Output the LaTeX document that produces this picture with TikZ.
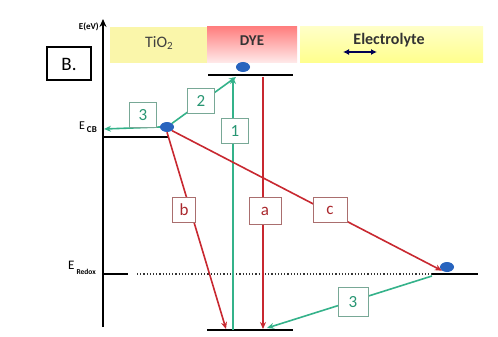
\documentclass[tikz,border=0pt]{standalone}
\usepackage{fontspec}
\setmainfont{Carlito}
\usetikzlibrary{arrows.meta,shapes.geometric}
\definecolor{grn}{RGB}{52,178,138}
\definecolor{grnbox}{RGB}{120,168,150}
\definecolor{rd}{RGB}{200,40,48}
\definecolor{rdbox}{RGB}{170,110,110}
\definecolor{rdtxt}{RGB}{170,40,45}
\definecolor{grntxt}{RGB}{40,150,115}
\definecolor{blu}{RGB}{40,100,190}
\definecolor{paleyel}{RGB}{250,246,170}
\begin{document}
\begin{tikzpicture}[x=1pt,y=-1pt,
  level/.style={line width=2.4pt,black},
  garrow/.style={grn,line width=1.6pt,-{Stealth[length=7pt,width=6pt]}},
  rarrow/.style={rd,line width=1.6pt,-{Stealth[length=7pt,width=6pt]}},
  glab/.style={draw=grnbox,fill=white,line width=1pt,text=grntxt,font=\fontsize{17}{17}\selectfont,minimum width=27pt,minimum height=25pt,inner sep=1pt},
  rlab/.style={draw=rdbox,fill=white,line width=1pt,text=rdtxt,font=\fontsize{17}{17}\selectfont,minimum width=27pt,minimum height=25pt,inner sep=1pt},
  electron/.style={ellipse,fill=blu,minimum width=14pt,minimum height=10pt,inner sep=0pt},
  hdr/.style={minimum height=36pt,inner sep=0pt,anchor=north west}]
\useasboundingbox (0,0) rectangle (498,337);
\fill[white] (0,0) rectangle (498,337);
% header boxes
\node[hdr,fill=paleyel,minimum width=97pt] (tio) at (110,27) {};
\node[font=\fontsize{16}{16}\selectfont,text=black!75] (tiot) at (159,43) {TiO\raisebox{-2pt}{\fontsize{11}{11}\selectfont 2}};
\shade[top color=red!50,bottom color=red!8] (207,27) rectangle (297,63);
\node[hdr,minimum width=90pt] (dye) at (207,27) {};
\node[font=\bfseries\fontsize{15}{15}\selectfont,text=black!80] (dyet) at (252,41) {DYE};
\shade[top color=yellow!22,bottom color=yellow!45] (300,27) rectangle (483,63);
\node[hdr,minimum width=183pt] (ele) at (300,27) {};
\node[font=\bfseries\fontsize{16}{16}\selectfont,text=black!80] (elet) at (389,40) {Electrolyte};
\coordinate (dl) at (343,52);
\coordinate (dr) at (377,52);
\draw[{Latex[length=6pt,width=6pt]}-{Latex[length=6pt,width=6pt]},line width=1.5pt,black!60!blue!80!black] (dl) -- (dr);
% B box
\node[draw,line width=2pt,minimum width=44pt,minimum height=33pt,font=\fontsize{19}{19}\selectfont] (bbox) at (69,64) {B.};
% axis
\coordinate (axb) at (103,327);
\coordinate (axt) at (103,19);
\draw[line width=1.8pt,-{Stealth[length=8pt,width=7pt]}] (axb) -- (axt);
\node[anchor=east,font=\bfseries\fontsize{9}{9}\selectfont,inner sep=0pt] (eev) at (99,27) {E(eV)};
% levels
\coordinate (cbl) at (103,137); \coordinate (cbr) at (168,137);
\draw[level] (cbl) -- (cbr);
\coordinate (lul) at (208,75); \coordinate (lur) at (293,75);
\draw[level] (lul) -- (lur);
\coordinate (hol) at (207,330); \coordinate (hor) at (293,330);
\draw[level] (hol) -- (hor);
\coordinate (rtl) at (103,274); \coordinate (rtr) at (128,274);
\draw[level] (rtl) -- (rtr);
\coordinate (rdl) at (137,274); \coordinate (rdm) at (432,274); \coordinate (rdr) at (478,274);
\draw[dotted,line width=1.2pt,black!80] (rdl) -- (rdm);
\draw[level] (rdm) -- (rdr);
% level labels
\node[anchor=east,inner sep=0pt,font=\fontsize{12}{12}\selectfont] (ecb) at (97,127) {E\,\raisebox{-3pt}{\fontsize{9}{9}\selectfont\bfseries CB}};
\node[anchor=east,inner sep=0pt,font=\fontsize{13}{13}\selectfont] (ered) at (96,268) {E\,\raisebox{-5pt}{\fontsize{7.5}{7.5}\selectfont\bfseries Redox}};
% electrons
\node[electron] (ecbe) at (167,127) {};
\node[electron] (lue) at (243,67) {};
\node[electron] (rde) at (447,267) {};
% arrows
\coordinate (ax3) at (104,129);
\draw[garrow] (ecbe.west) -- (ax3);
\coordinate (a2e) at (236,77);
\draw[garrow] (ecbe.north east) -- (a2e);
\coordinate (a1s) at (233,330); \coordinate (a1e) at (233,77);
\draw[garrow] (a1s) -- (a1e);
\coordinate (aas) at (263,77); \coordinate (aae) at (263,329);
\draw[rarrow] (aas) -- (aae);
\coordinate (abe) at (226,329);
\draw[rarrow] (ecbe.south) -- (abe);
\draw[rarrow] (ecbe.south east) -- (rde.south west);
\coordinate (g3s) at (432,276); \coordinate (g3e) at (267,328);
\draw[garrow] (g3s) -- (g3e);
% labels
\node[glab] (l3a) at (143,115) {3};
\node[glab] (l2) at (201,101) {2};
\node[glab] (l1) at (235,131) {1};
\node[rlab,minimum width=23pt] (lb) at (184,210) {b};
\node[rlab,minimum width=32pt,minimum height=27pt] (la) at (265,211) {a};
\node[rlab,minimum width=34pt] (lc) at (330,210) {c};
\node[glab,minimum width=30pt,minimum height=29pt] (l3b) at (353,302) {3};
\end{tikzpicture}
\end{document}
